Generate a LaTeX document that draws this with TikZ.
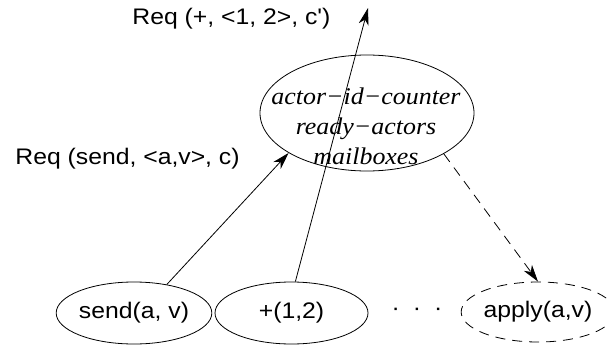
\documentclass[tikz,border=0pt]{standalone}
\usepackage{fontspec}
\setmainfont{Liberation Sans}
\newfontfamily\reqfont[FakeStretch=1.1]{Liberation Sans}
\newfontfamily\statefont[FakeStretch=1.08]{Liberation Serif}
\usetikzlibrary{arrows.meta,shapes.geometric}

\begin{document}
\begin{tikzpicture}[x=1pt,y=-1pt,line width=0.8pt,
	>={Stealth[length=17pt,width=10pt,inset=5pt]},
	proc/.style={draw,ellipse,minimum width=145pt,minimum height=62pt,inner sep=0pt,
		font=\reqfont\fontsize{22.5}{27}\selectfont},
	msg/.style={font=\reqfont\fontsize{22.5}{27}\selectfont,anchor=base west,inner sep=0pt},
	dashes/.style={dash pattern=on 10pt off 7pt}]
	\useasboundingbox (0,0) rectangle (609,347);
	% the state of the system
	\node[draw,ellipse,minimum width=214pt,minimum height=116pt] (state) at (367,113) {};
	\node[font=\statefont\itshape\fontsize{24}{30}\selectfont,align=center,inner sep=0pt]
		(statetext) at (366,126) {actor−id−counter\\ready−actors\\mailboxes};
	% requests
	\node[proc] (send) at (134,313) {send(a, v)};
	\node[proc,minimum width=153pt] (plus) at (291.5,313) {+(1,2)};
	\node[inner sep=0pt,font=\reqfont\fontsize{22.5}{27}\selectfont] (dots) at (417,312) {·\hspace{13pt}·\hspace{13pt}·};
	\node[proc,dashes,minimum width=140pt,minimum height=60pt] (apply) at (538,312) {apply(a,v)};
	\coordinate (out) at (368,8);
	\draw[->] (send.41) -- (state.207);
	\draw[->] (plus.83) -- (out);
	\draw[->,dashes] (state.-28) -- (apply.north);
	\node[msg] (reqplus) at (132,25) {Req (+, <1, 2>, c')};
	\node[msg] (reqsend) at (15,165) {Req (send, <a,v>, c)};
\end{tikzpicture}
\end{document}
